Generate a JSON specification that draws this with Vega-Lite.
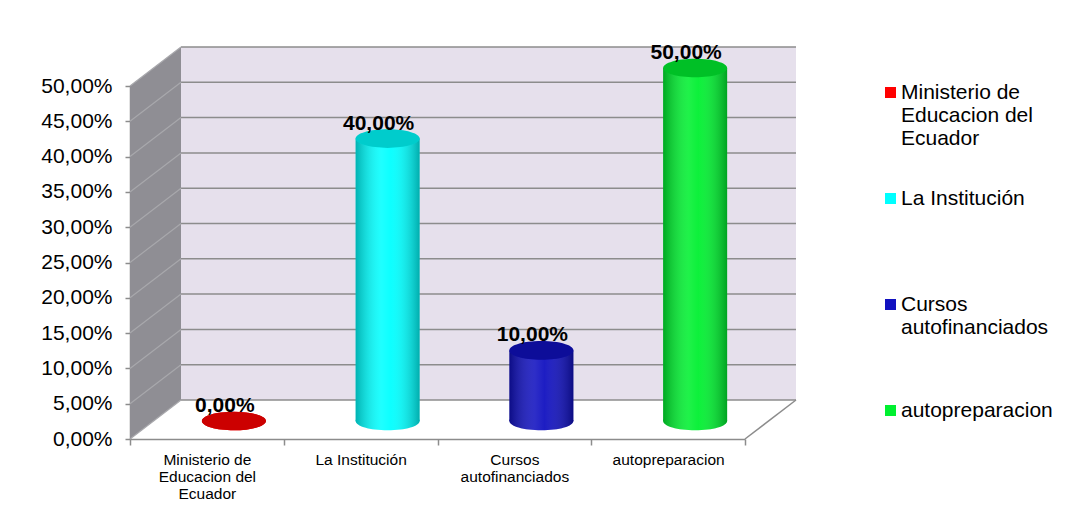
{
  "$schema": "https://vega.github.io/schema/vega-lite/v6.json",
  "autosize": {"type": "none"},
  "width": 615,
  "height": 353,
  "padding": {"left": 130, "top": 86, "right": 338, "bottom": 81},
  "background": "white",
  "config": {
    "locale": {"number": {"decimal": ",", "thousands": ".", "grouping": [3], "currency": ["$", ""]}},
    "view": {"stroke": null},
    "font": "Liberation Sans",
    "legend": {"labelLineHeight": 24}
  },
  "datasets": {
    "barras": [
      {"categoria": "Ministerio de Educacion del Ecuador", "valor": 0.0},
      {"categoria": "La Institución", "valor": 0.4},
      {"categoria": "Cursos autofinanciados", "valor": 0.1},
      {"categoria": "autopreparacion", "valor": 0.5}
    ],
    "marcas": [
      {"categoria": "Ministerio de Educacion del Ecuador", "fin": "autopreparacion", "valor": 0.0},
      {"categoria": "Ministerio de Educacion del Ecuador", "fin": "autopreparacion", "valor": 0.05},
      {"categoria": "Ministerio de Educacion del Ecuador", "fin": "autopreparacion", "valor": 0.1},
      {"categoria": "Ministerio de Educacion del Ecuador", "fin": "autopreparacion", "valor": 0.15},
      {"categoria": "Ministerio de Educacion del Ecuador", "fin": "autopreparacion", "valor": 0.2},
      {"categoria": "Ministerio de Educacion del Ecuador", "fin": "autopreparacion", "valor": 0.25},
      {"categoria": "Ministerio de Educacion del Ecuador", "fin": "autopreparacion", "valor": 0.3},
      {"categoria": "Ministerio de Educacion del Ecuador", "fin": "autopreparacion", "valor": 0.35},
      {"categoria": "Ministerio de Educacion del Ecuador", "fin": "autopreparacion", "valor": 0.4},
      {"categoria": "Ministerio de Educacion del Ecuador", "fin": "autopreparacion", "valor": 0.45},
      {"categoria": "Ministerio de Educacion del Ecuador", "fin": "autopreparacion", "valor": 0.5}
    ],
    "paredes": [
      {"categoria": "Ministerio de Educacion del Ecuador", "fin": "autopreparacion", "valor": 0.0, "tope": 0.5}
    ]
  },
  "encoding": {
    "x": {"field": "categoria", "type": "nominal",
      "scale": {"domain": ["Ministerio de Educacion del Ecuador", "La Institución", "Cursos autofinanciados", "autopreparacion"], "paddingInner": 0, "paddingOuter": 0},
      "axis": {"title": null, "labelAngle": 0, "labelFontSize": 15.5, "labelLineHeight": 17, "labelColor": "#000000",
        "labelPadding": 7, "tickSize": 6, "tickBand": "extent", "tickColor": "#8C8C8C", "tickWidth": 1.5,
        "domainColor": "#8C8C8C", "domainWidth": 1.5, "labelBaseline": "top",
        "labelExpr": "datum.label == 'Ministerio de Educacion del Ecuador' ? ['Ministerio de', 'Educacion del', 'Ecuador'] : datum.label == 'Cursos autofinanciados' ? ['Cursos', 'autofinanciados'] : datum.label"}},
    "y": {"field": "valor", "type": "quantitative", "scale": {"domain": [0, 0.5]},
      "axis": {"title": null, "values": [0, 0.05, 0.1, 0.15, 0.2, 0.25, 0.3, 0.35, 0.4, 0.45, 0.5], "format": ".2%",
        "labelFontSize": 21, "labelColor": "#000000", "labelPadding": 13, "tickSize": 5, "tickColor": "#8C8C8C",
        "domainColor": "#8C8C8C", "domainWidth": 1.5, "tickWidth": 1.5, "grid": false}}
  },
  "layer": [
    {
      "data": {"name": "paredes"},
      "mark": {"type": "rect", "fill": "#E6E0EC", "xOffset": 51, "x2Offset": 51, "yOffset": -39, "y2Offset": -39},
      "encoding": {
        "x": {"field": "categoria", "type": "nominal", "bandPosition": 0,
          "scale": {"domain": ["Ministerio de Educacion del Ecuador", "La Institución", "Cursos autofinanciados", "autopreparacion"], "paddingInner": 0, "paddingOuter": 0}},
        "x2": {"field": "fin", "bandPosition": 1},
        "y2": {"field": "tope"}
      }
    },
    {
      "data": {"name": "paredes"},
      "mark": {"type": "point", "shape": "M0,0 L0,-353 L51,-392 L51,-39 Z", "size": 4, "filled": true, "fill": "#8F8E94", "opacity": 1, "strokeWidth": 0},
      "encoding": {
        "x": {"field": "categoria", "type": "nominal", "bandPosition": 0,
          "scale": {"domain": ["Ministerio de Educacion del Ecuador", "La Institución", "Cursos autofinanciados", "autopreparacion"], "paddingInner": 0, "paddingOuter": 0}}
      }
    },
    {
      "data": {"name": "marcas"},
      "mark": {"type": "rule", "stroke": "#8C8C8C", "strokeWidth": 1.5, "xOffset": 51, "x2Offset": 51, "yOffset": -39, "y2Offset": -39},
      "encoding": {
        "x": {"field": "categoria", "type": "nominal", "bandPosition": 0,
          "scale": {"domain": ["Ministerio de Educacion del Ecuador", "La Institución", "Cursos autofinanciados", "autopreparacion"], "paddingInner": 0, "paddingOuter": 0}},
        "x2": {"field": "fin", "bandPosition": 1},
        "y2": {"field": "valor"}
      }
    },
    {
      "data": {"name": "marcas"},
      "mark": {"type": "rule", "stroke": "#A8A8AC", "strokeWidth": 1.2, "x2Offset": 51, "y2Offset": -39},
      "encoding": {
        "x": {"field": "categoria", "type": "nominal", "bandPosition": 0,
          "scale": {"domain": ["Ministerio de Educacion del Ecuador", "La Institución", "Cursos autofinanciados", "autopreparacion"], "paddingInner": 0, "paddingOuter": 0}},
        "x2": {"field": "categoria", "bandPosition": 0},
        "y2": {"field": "valor"}
      }
    },
    {
      "data": {"name": "paredes"},
      "mark": {"type": "rule", "stroke": "#8C8C8C", "strokeWidth": 1.5, "x2Offset": 51, "y2Offset": -39},
      "encoding": {
        "x": {"field": "fin", "type": "nominal", "bandPosition": 1,
          "scale": {"domain": ["Ministerio de Educacion del Ecuador", "La Institución", "Cursos autofinanciados", "autopreparacion"], "paddingInner": 0, "paddingOuter": 0}},
        "x2": {"field": "fin", "bandPosition": 1},
        "y2": {"field": "valor"}
      }
    },
    {
      "data": {"name": "barras"},
      "mark": {"type": "point", "shape": "M-1,0 A1,0.29 0 1 0 1,0 A1,0.29 0 1 0 -1,0 Z", "size": 4096, "filled": true, "opacity": 1, "strokeWidth": 0, "xOffset": 27, "yOffset": -18},
      "encoding": {
        "y": {"datum": 0, "type": "quantitative", "scale": {"domain": [0, 0.5]}},
        "color": {"field": "categoria", "type": "nominal",
          "scale": {"domain": ["Ministerio de Educacion del Ecuador", "La Institución", "Cursos autofinanciados", "autopreparacion"], "range": ["#FF0000", "#00FFFF", "#1111C0", "#00F030"]},
          "legend": {"title": null, "orient": "none", "legendX": 750, "legendY": -4, "symbolType": "square", "symbolSize": 121,
            "symbolStrokeWidth": 0, "labelFontSize": 21, "labelColor": "#000000", "labelOffset": 0, "rowPadding": 15,
            "labelBaseline": "middle", "labelLimit": 300,
            "labelExpr": "datum.label == 'Ministerio de Educacion del Ecuador' ? ['Ministerio de', 'Educacion del', 'Ecuador', ''] : datum.label == 'Cursos autofinanciados' ? ['Cursos', 'autofinanciados', '', ''] : [datum.label, '', '', '']"}}
      }
    },
    {
      "data": {"name": "barras"},
      "mark": {"type": "point", "shape": "M-1,0 A1,0.29 0 1 0 1,0 A1,0.29 0 1 0 -1,0 Z", "size": 4096, "filled": true, "opacity": 1, "strokeWidth": 0, "xOffset": 27, "yOffset": -18,
        "fill": {"gradient": "linear", "x1": 0, "x2": 1, "y1": 0, "y2": 0, "stops": [
          {"offset": 0, "color": "rgba(0,0,0,0.3)"}, {"offset": 0.4, "color": "rgba(255,255,255,0.12)"}, {"offset": 0.55, "color": "rgba(255,255,255,0.05)"}, {"offset": 1, "color": "rgba(0,0,0,0.32)"}]}},
      "encoding": {
        "y": {"datum": 0, "type": "quantitative", "scale": {"domain": [0, 0.5]}}
      }
    },
    {
      "data": {"name": "barras"},
      "mark": {"type": "bar", "width": 64, "xOffset": 27, "x2Offset": 27, "yOffset": -18, "y2Offset": -18},
      "encoding": {
        "color": {"field": "categoria", "type": "nominal",
          "scale": {"domain": ["Ministerio de Educacion del Ecuador", "La Institución", "Cursos autofinanciados", "autopreparacion"], "range": ["#FF0000", "#00FFFF", "#1111C0", "#00F030"]},
          "legend": {"title": null, "orient": "none", "legendX": 750, "legendY": -4, "symbolType": "square", "symbolSize": 121,
            "symbolStrokeWidth": 0, "labelFontSize": 21, "labelColor": "#000000", "labelOffset": 0, "rowPadding": 15,
            "labelBaseline": "middle", "labelLimit": 300,
            "labelExpr": "datum.label == 'Ministerio de Educacion del Ecuador' ? ['Ministerio de', 'Educacion del', 'Ecuador', ''] : datum.label == 'Cursos autofinanciados' ? ['Cursos', 'autofinanciados', '', ''] : [datum.label, '', '', '']"}}
      }
    },
    {
      "data": {"name": "barras"},
      "mark": {"type": "bar", "width": 64, "xOffset": 27, "x2Offset": 27, "yOffset": -18, "y2Offset": -18,
        "fill": {"gradient": "linear", "x1": 0, "x2": 1, "y1": 0, "y2": 0, "stops": [
          {"offset": 0, "color": "rgba(0,0,0,0.3)"}, {"offset": 0.4, "color": "rgba(255,255,255,0.12)"}, {"offset": 0.55, "color": "rgba(255,255,255,0.05)"}, {"offset": 1, "color": "rgba(0,0,0,0.32)"}]}}
    },
    {
      "data": {"name": "barras"},
      "mark": {"type": "point", "shape": "M-1,0 A1,0.29 0 1 0 1,0 A1,0.29 0 1 0 -1,0 Z", "size": 4096, "filled": true, "opacity": 1, "strokeWidth": 0, "xOffset": 27, "yOffset": -18},
      "encoding": {
        "color": {"field": "categoria", "type": "nominal",
          "scale": {"domain": ["Ministerio de Educacion del Ecuador", "La Institución", "Cursos autofinanciados", "autopreparacion"], "range": ["#FF0000", "#00FFFF", "#1111C0", "#00F030"]},
          "legend": {"title": null, "orient": "none", "legendX": 750, "legendY": -4, "symbolType": "square", "symbolSize": 121,
            "symbolStrokeWidth": 0, "labelFontSize": 21, "labelColor": "#000000", "labelOffset": 0, "rowPadding": 15,
            "labelBaseline": "middle", "labelLimit": 300,
            "labelExpr": "datum.label == 'Ministerio de Educacion del Ecuador' ? ['Ministerio de', 'Educacion del', 'Ecuador', ''] : datum.label == 'Cursos autofinanciados' ? ['Cursos', 'autofinanciados', '', ''] : [datum.label, '', '', '']"}}
      }
    },
    {
      "data": {"name": "barras"},
      "mark": {"type": "point", "shape": "M-1,0 A1,0.29 0 1 0 1,0 A1,0.29 0 1 0 -1,0 Z", "size": 4096, "filled": true, "opacity": 0.2, "fill": "#000000", "strokeWidth": 0, "xOffset": 27, "yOffset": -18}
    },
    {
      "data": {"name": "barras"},
      "mark": {"type": "text", "fontSize": 21, "fontWeight": "bold", "color": "#000000", "baseline": "alphabetic", "xOffset": 18, "yOffset": -27},
      "encoding": {
        "text": {"field": "valor", "type": "quantitative", "format": ".2%"}
      }
    }
  ]
}
